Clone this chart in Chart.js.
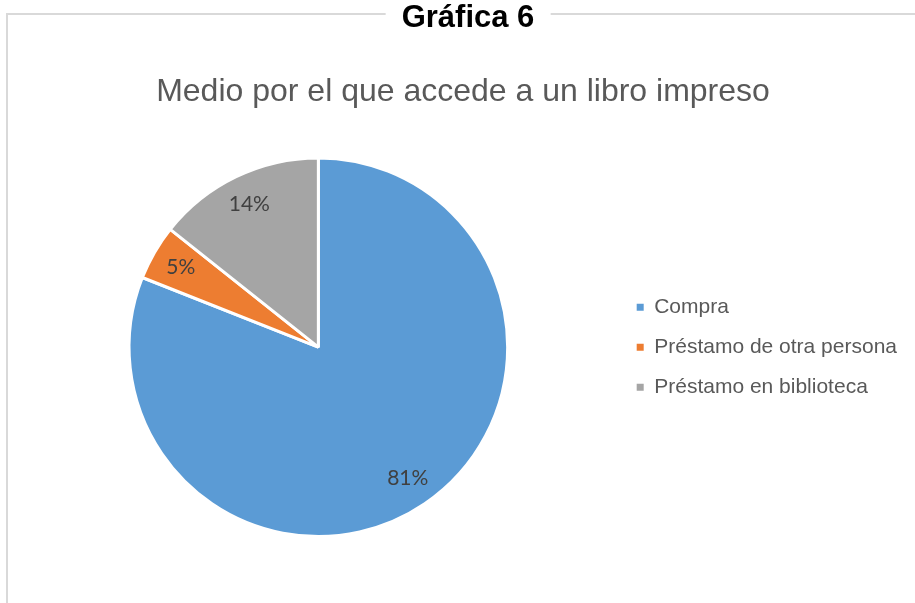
<!DOCTYPE html>
<html>
<head>
<meta charset="utf-8">
<script src="https://cdn.jsdelivr.net/npm/chart.js@4.4.1/dist/chart.umd.min.js"></script>
<style>
    body { margin: 0; background: #fff; }
    #wrap { position: relative; width: 915px; height: 603px; overflow: hidden; }
    #frame {
        position: absolute; left: 6px; top: 13px; width: 930px; height: 620px;
        border-top: 2px solid #d9d9d9; border-left: 2px solid #d9d9d9;
    }
    #caption {
        position: absolute; top: 0; left: 468px; transform: translateX(-50%);
        background: #fff; padding: 0 16px;
        font: bold 31px "Liberation Sans", Arial, sans-serif; color: #000; line-height: 34px;
    }
    #chartBox { position: absolute; left: 0; top: 0; width: 915px; height: 603px; }
</style>
</head>
<body>
<div id="wrap">
    <div id="frame"></div>
    <div id="chartBox"><canvas id="pie"></canvas></div>
    <div id="caption">Gráfica 6</div>
</div>
<script>
// Chart data
const categories = ['Compra', 'Préstamo de otra persona', 'Préstamo en biblioteca'];
const shares = [81.0, 4.7, 14.3];
const sliceColors = ['#5B9BD5', '#ED7D31', '#A5A5A5'];
const chartTitle = 'Medio por el que accede a un libro impreso';

// Draws the percentage inside each slice
const sliceLabels = {
    id: 'sliceLabels',
    afterDatasetsDraw(chart) {
        const ctx = chart.ctx;
        const meta = chart.getDatasetMeta(0);
        const total = shares.reduce((a, b) => a + b, 0);
        ctx.save();
        ctx.font = '21px Lato, "Open Sans", sans-serif';
        ctx.fillStyle = '#404040';
        ctx.textAlign = 'center';
        ctx.textBaseline = 'middle';
        meta.data.forEach((arc, i) => {
            const p = arc.getProps(['x', 'y', 'startAngle', 'endAngle', 'outerRadius'], true);
            const mid = (p.startAngle + p.endAngle) / 2;
            const r = p.outerRadius * 0.84;
            const pct = Math.round(shares[i] / total * 100) + '%';
            ctx.fillText(pct, p.x + Math.cos(mid) * r, p.y + Math.sin(mid) * r);
        });
        ctx.restore();
    }
};

new Chart(document.getElementById('pie').getContext('2d'), {
    type: 'pie',
    data: {
        labels: categories,
        datasets: [{
            data: shares,
            backgroundColor: sliceColors,
            borderColor: '#fff',
            borderWidth: 3
        }]
    },
    options: {
        responsive: true,
        maintainAspectRatio: false,
        animation: false,
        layout: { padding: { left: 19, right: 8, top: 0, bottom: 65 } },
        plugins: {
            tooltip: { enabled: false },
            title: {
                display: true,
                text: chartTitle,
                color: '#595959',
                font: { family: '"Liberation Sans", Arial, sans-serif', size: 32, weight: 'normal', lineHeight: 1.2 },
                padding: { top: 73, bottom: 45 }
            },
            legend: {
                position: 'right',
                align: 'center',
                fullSize: false,
                labels: {
                    color: '#595959',
                    font: { family: '"Liberation Sans", Arial, sans-serif', size: 21 },
                    boxWidth: 7,
                    boxHeight: 7,
                    padding: 19,
                    generateLabels(chart) {
                        // plain squares, without the white slice border
                        return Chart.overrides.pie.plugins.legend.labels.generateLabels(chart).map(item => {
                            item.lineWidth = 0;
                            item.strokeStyle = item.fillStyle;
                            return item;
                        });
                    }
                }
            }
        }
    },
    plugins: [sliceLabels]
});
</script>
</body>
</html>
